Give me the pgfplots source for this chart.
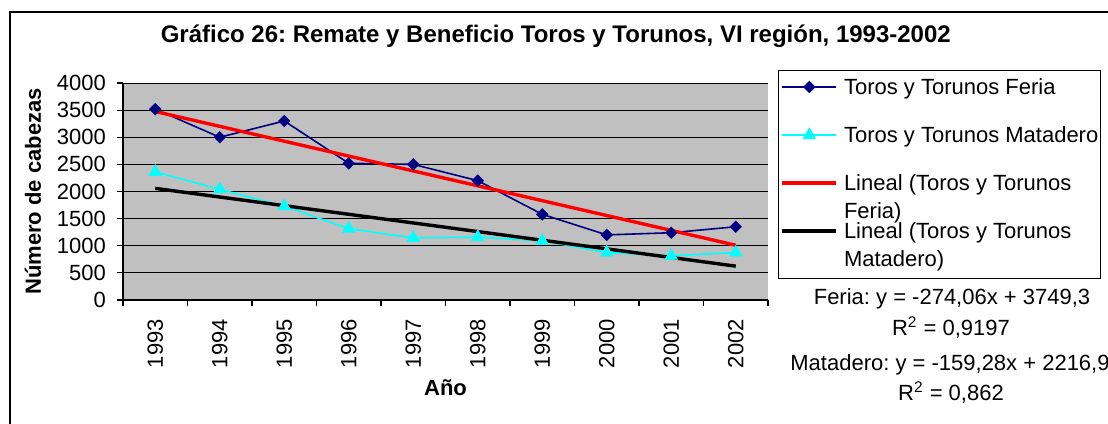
\documentclass[border=0pt]{standalone}
\usepackage{fontspec}
\setmainfont{Liberation Sans}
\frenchspacing
\usepackage{pgfplots}
\pgfplotsset{compat=1.18}
\definecolor{navyxl}{RGB}{0,0,128}
\definecolor{cyanxl}{RGB}{0,255,255}
\definecolor{plotgray}{RGB}{192,192,192}
\newcommand\txt{\fontsize{11}{14}\selectfont}

\begin{document}
\begin{tikzpicture}
\useasboundingbox (0,0) rectangle (554pt,211.5pt);
\draw[line width=0.65pt] (5pt,-2pt) -- (5pt,205.5pt) -- (556pt,205.5pt);
\begin{axis}[
  at={(61.5pt,61.5pt)}, anchor=south west,
  scale only axis, width=322.5pt, height=108.5pt,
  xmin=1992.5, xmax=2002.5, ymin=0, ymax=4000,
  xtick={1993,...,2002},
  minor xtick={1992.5,1993.5,...,2002.5},
  ytick={0,500,...,4000},
  axis x line*=bottom, axis y line*=left,
  axis line style={line width=0.6pt},
  axis background/.style={fill=plotgray},
  ymajorgrids, grid style={black, line width=0.5pt},
  tick style={black, line width=0.6pt},
  tick align=outside, major tick length=3pt, minor tick length=3pt,
  every major x tick/.style={draw=none},
  /pgf/number format/1000 sep={},
  /pgf/number format/assume math mode=true,
  ticklabel style={font=\txt},
  xticklabel style={rotate=90, anchor=east},
  xticklabel shift=3pt,
  yticklabel style={xshift=-2pt},
  title={\bfseries Gráfico 26: Remate y Beneficio Toros y Torunos, VI región, 1993-2002},
  title style={at={(rel axis cs:0.671,1.161)}, anchor=center, font=\fontsize{12}{14}\selectfont},
  xlabel={\bfseries Año},
  ylabel={\bfseries Número de cabezas},
  every axis x label/.style={at={(axis description cs:0.5,-0.406)}, anchor=center},
  every axis y label/.style={at={(axis description cs:-0.1395,0.5)}, rotate=90, anchor=center},
  label style={font=\txt},
  legend style={at={(1.0155,1.06)}, anchor=north west, draw=black, line width=0.6pt,
    fill=white, inner xsep=1pt, inner ysep=2pt, row sep=10pt, column sep=3pt,
    font=\txt, cells={anchor=base west},
    nodes={inner xsep=0pt, inner ysep=2pt, text height=8pt, text depth=2pt}},
  legend image code/.code={\draw[mark repeat=2,mark phase=2,#1,yshift=3.8pt]
    plot coordinates {(4pt,0pt) (17.5pt,0pt) (31pt,0pt)};},
]
\addplot[color=navyxl, line width=0.8pt, mark=square*, mark size=2pt,
  mark options={rotate=45, fill=navyxl, line width=0.4pt}] coordinates {
  (1993,3520) (1994,3000) (1995,3300) (1996,2520) (1997,2500)
  (1998,2200) (1999,1580) (2000,1200) (2001,1240) (2002,1350)};
\addlegendentry{Toros y Torunos Feria}
\addplot[color=cyanxl, line width=0.8pt, mark=triangle*, mark size=3.5pt,
  mark options={fill=cyanxl, line width=0.4pt}] coordinates {
  (1993,2360) (1994,2040) (1995,1730) (1996,1315) (1997,1145)
  (1998,1160) (1999,1090) (2000,875) (2001,815) (2002,875)};
\addlegendentry{Toros y Torunos Matadero}
\addplot[color=red, line width=1.7pt] coordinates {(1993,3475.24) (2002,1008.7)};
\addlegendentry{\begin{tabular}[t]{@{}l@{}}Lineal (Toros y Torunos\\Feria)\end{tabular}}
\addplot[color=black, line width=1.7pt] coordinates {(1993,2057.62) (2002,624.1)};
\addlegendentry[text depth=16pt]{\begin{tabular}[t]{@{}l@{}}Lineal (Toros y Torunos\\Matadero)\end{tabular}}
\end{axis}
\node[font=\txt] at (476pt,62pt) {Feria: y = -274,06x + 3749,3};
\node[font=\txt] at (475.5pt,47.5pt) {R\textsuperscript{2} = 0,9197};
\node[font=\txt] at (475pt,29pt) {Matadero: y = -159,28x + 2216,9};
\node[font=\txt] at (475.5pt,15pt) {R\textsuperscript{2} = 0,862};
\end{tikzpicture}
\end{document}
